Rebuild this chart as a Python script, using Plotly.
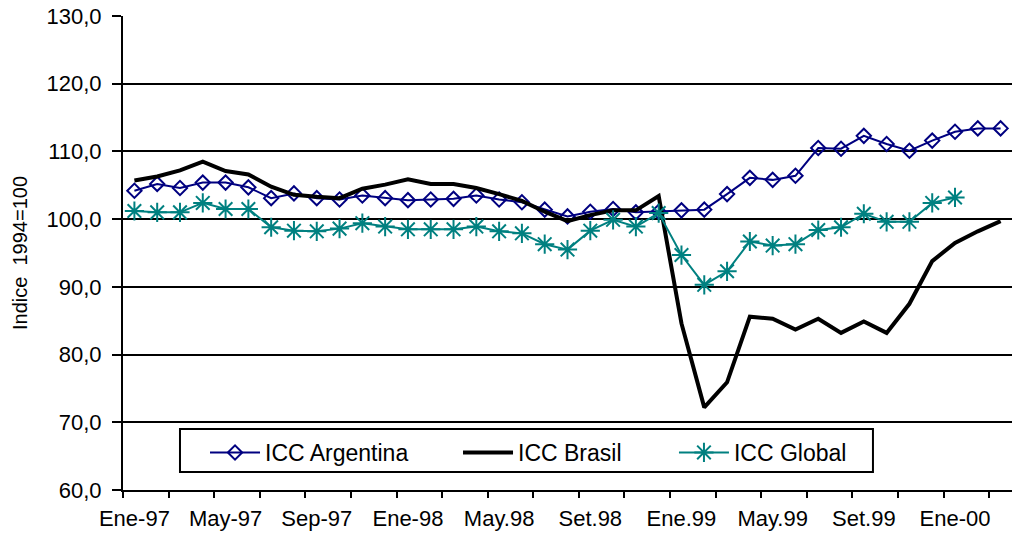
import plotly.graph_objects as go

months_idx = list(range(39))
tick_positions = [0, 4, 8, 12, 16, 20, 24, 28, 32, 36]
tick_labels = ["Ene-97", "May-97", "Sep-97", "Ene-98", "May.98", "Set.98",
               "Ene.99", "May.99", "Set.99", "Ene-00"]

icc_argentina = [104.2, 105.2, 104.6, 105.4, 105.4, 104.7, 103.1, 103.8, 103.1, 102.9,
                 103.5, 103.1, 102.8, 102.9, 103.0, 103.5, 102.9, 102.5, 101.4, 100.4,
                 101.1, 101.5, 101.0, 101.1, 101.3, 101.4, 103.7, 106.1, 105.8, 106.4,
                 110.5, 110.4, 112.3, 111.1, 110.1, 111.6, 112.9, 113.4, 113.4]

icc_brasil = [105.7, 106.3, 107.2, 108.5, 107.1, 106.6, 104.8, 103.6, 103.3, 103.1,
              104.5, 105.1, 105.9, 105.2, 105.2, 104.6, 103.7, 102.7, 101.1, 99.7,
              100.6, 101.3, 101.3, 103.4, 84.6, 72.2, 75.9, 85.6, 85.3, 83.7,
              85.3, 83.2, 84.9, 83.2, 87.5, 93.8, 96.5, 98.2, 99.7]

icc_global = [101.2, 101.0, 101.0, 102.4, 101.5, 101.5, 98.8, 98.3, 98.2, 98.6,
              99.4, 98.9, 98.5, 98.5, 98.5, 98.9, 98.2, 97.9, 96.3, 95.5,
              98.3, 99.9, 98.9, 100.9, 94.7, 90.3, 92.3, 96.7, 96.1, 96.3,
              98.4, 98.8, 100.8, 99.6, 99.6, 102.4, 103.2, None, None]

FONT = "Liberation Sans, Arial, sans-serif"

fig = go.Figure()
fig.add_trace(go.Scatter(
    x=months_idx, y=icc_argentina, name="ICC Argentina", mode="lines+markers",
    line=dict(color="#000080", width=2), legend="legend",
    marker=dict(symbol="diamond-open", size=11, color="#000080", line=dict(width=2, color="#000080")),
))
fig.add_trace(go.Scatter(
    x=months_idx, y=icc_brasil, name="ICC Brasil", mode="lines",
    line=dict(color="black", width=4), legend="legend2",
))
fig.add_trace(go.Scatter(
    x=months_idx, y=icc_global, name="ICC Global", mode="lines+markers",
    line=dict(color="#008080", width=2), legend="legend3",
    marker=dict(symbol="asterisk-open", size=16, color="#008080", line=dict(width=2, color="#008080")),
))


def legend_at(xpos):
    return dict(
        orientation="h", x=xpos, y=0.1287, xanchor="left", yanchor="top",
        bordercolor="rgba(0,0,0,0)", borderwidth=2, bgcolor="rgba(0,0,0,0)",
        font=dict(family=FONT, size=23, color="black"),
        itemwidth=50,
    )


fig.update_layout(
    width=1014, height=536,
    margin=dict(l=123, r=2, t=16, b=46),
    paper_bgcolor="white", plot_bgcolor="white",
    separators=",.",
    font=dict(family=FONT, size=22, color="black"),
    showlegend=True,
    legend=legend_at(0.0900),
    legend2=legend_at(0.3746),
    legend3=legend_at(0.6175),
    shapes=[dict(
        type="rect", xref="paper", yref="paper",
        x0=0.0641, x1=0.8436, y0=0.038, y1=0.1287,
        line=dict(color="black", width=2), fillcolor="white", layer="above",
    )],
)

fig.update_xaxes(
    range=[-0.5, 38.5], automargin=False,
    tickmode="array", tickvals=tick_positions, ticktext=tick_labels,
    ticks="outside", ticklen=0, tickwidth=0,
    ticklabelstandoff=8,
    showgrid=False, zeroline=False,
    showline=True, linecolor="black", linewidth=2,
    tickfont=dict(family=FONT, size=22, color="black"),
    minor=dict(tickmode="linear", tick0=-0.5, dtick=2, ticks="outside",
               ticklen=6, tickwidth=2, tickcolor="black", showgrid=False),
)

fig.update_yaxes(
    range=[60, 130], automargin=False, tickmode="linear", tick0=60, dtick=10,
    tickformat=".1f",
    ticks="outside", ticklen=9, tickwidth=2, tickcolor="black",
    ticklabelstandoff=6,
    showgrid=True, gridcolor="black", gridwidth=2,
    zeroline=False, showline=True, linecolor="black", linewidth=2,
    tickfont=dict(family=FONT, size=22, color="black"),
    title=dict(text="Indice\u00a0 1994=100", font=dict(family=FONT, size=20, color="black"), standoff=14),
)

fig.write_html(
    "out.html",
    config={"displayModeBar": False},
    post_script="document.body.style.margin='0';document.body.style.overflow='hidden';",
)
